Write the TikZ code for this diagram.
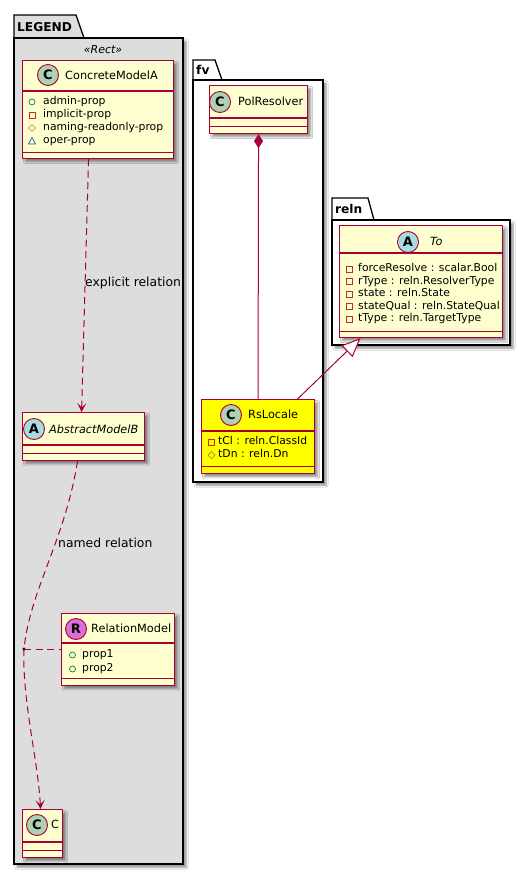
\documentclass[tikz,border=0pt]{standalone}
\usepackage{fontspec}
\setmainfont{DejaVu Sans}
\usetikzlibrary{arrows.meta,shadows.blur}
\definecolor{umlborder}{HTML}{A80036}
\definecolor{umlfill}{HTML}{FEFECE}
\definecolor{circC}{HTML}{ADD1B2}
\definecolor{circA}{HTML}{A9DCDF}
\definecolor{circR}{HTML}{DA70D6}
\definecolor{pkgfill}{HTML}{DDDDDD}
\definecolor{icpub}{HTML}{038048}
\definecolor{icpriv}{HTML}{C82930}
\definecolor{icprot}{HTML}{B38D22}
\definecolor{icpkg}{HTML}{1963A0}
\definecolor{rsyellow}{HTML}{FFFF00}
\begin{document}
\begin{tikzpicture}[x=1pt,y=-1pt,
  softshadow/.style={blur shadow={shadow xshift=3pt,shadow yshift=-3pt,shadow blur steps=5,shadow opacity=45}},
  pkgline/.style={draw=black,line width=1.3pt},
  classbox/.style={draw=umlborder,fill=umlfill,line width=1.1pt,inner sep=0pt,anchor=north west,softshadow},
  sepline/.style={draw=umlborder,line width=1.1pt},
  circ/.style={circle,draw=umlborder,line width=0.9pt,minimum size=21pt,inner sep=0pt,font=\bfseries\fontsize{13}{13}\selectfont},
  ctitle/.style={anchor=west,inner sep=0pt,text height=9pt,text depth=2.5pt,font=\fontsize{11.3}{13}\selectfont},
  attr/.style={anchor=west,inner sep=0pt,text height=8pt,text depth=2.5pt,font=\fontsize{10.8}{12}\selectfont},
  lbl/.style={anchor=west,inner sep=0pt,text height=9pt,text depth=2.5pt,font=\fontsize{12.4}{14}\selectfont},
  pkgname/.style={anchor=west,inner sep=0pt,font=\bfseries\fontsize{12.2}{14}\selectfont},
  rel/.style={draw=umlborder,line width=1pt},
  dashrel/.style={rel,dash pattern=on 7pt off 4.5pt},
  pubicon/.pic={\draw[icpub,line width=0.7pt] (0,0) circle (3);},
  privicon/.pic={\draw[icpriv,line width=0.7pt] (-3,-3) rectangle (3,3);},
  proticon/.pic={\draw[icprot,line width=0.7pt] (-3.5,0)--(0,-3.5)--(3.5,0)--(0,3.5)--cycle;},
  pkgicon/.pic={\draw[icpkg,line width=0.7pt] (-3.5,3)--(3.5,3)--(0,-3.5)--cycle;}
]
\useasboundingbox (0,0) rectangle (530,876);
\fill[white] (0,0) rectangle (530,876);

% ---------- packages ----------
\path[pkgline,fill=pkgfill] (14,38) -- (14,15) -- (76,15) -- (84,38) -- cycle;
\path[pkgline,fill=pkgfill,softshadow] (14,38) rectangle (183,864);
\node[pkgname] (legendname) at (17,27) {LEGEND};
\node[inner sep=0pt,font=\itshape\fontsize{11}{13}\selectfont] (rectst) at (103,50) {«Rect»};

\path[pkgline,fill=white] (193,80) -- (193,60) -- (215,60) -- (222,80) -- cycle;
\path[pkgline,fill=white,softshadow] (193,80) rectangle (323,482);
\node[pkgname] (fvname) at (196,70) {fv};

\path[pkgline,fill=white] (332,220) -- (332,198) -- (368,198) -- (374,220) -- cycle;
\path[pkgline,fill=white,softshadow] (332,220) rectangle (510,345);
\node[pkgname] (relnname) at (335,209) {reln};

% ---------- ConcreteModelA ----------
\node[classbox,minimum width=151pt,minimum height=98pt] (cma) at (22,60) {};
\draw[sepline] ([yshift=-31pt]cma.north west) -- ([yshift=-31pt]cma.north east);
\draw[sepline] ([yshift=7pt]cma.south west) -- ([yshift=7pt]cma.south east);
\node[circ,fill=circC] (cmacirc) at (48,75) {C};
\node[ctitle] (cmatitle) at (65,76) {ConcreteModelA};
\pic at (32,102) {pubicon};  \node[attr] (cmaa1) at (43,102) {admin-prop};
\pic at (32,115) {privicon}; \node[attr] (cmaa2) at (43,115) {implicit-prop};
\pic at (32,128) {proticon}; \node[attr] (cmaa3) at (43,128) {naming-readonly-prop};
\pic at (32,141) {pkgicon};  \node[attr] (cmaa4) at (43,141) {oper-prop};

% ---------- AbstractModelB ----------
\node[classbox,minimum width=122pt,minimum height=48pt] (amb) at (22,412) {};
\draw[sepline] ([yshift=-33pt]amb.north west) -- ([yshift=-33pt]amb.north east);
\draw[sepline] ([yshift=8pt]amb.south west) -- ([yshift=8pt]amb.south east);
\node[circ,fill=circA] (ambcirc) at (34,429) {A};
\node[ctitle,font=\itshape\fontsize{11.3}{13}\selectfont] (ambtitle) at (49,430) {AbstractModelB};

% ---------- RelationModel ----------
\node[classbox,minimum width=113pt,minimum height=72pt] (relm) at (61,613) {};
\draw[sepline] ([yshift=-30pt]relm.north west) -- ([yshift=-30pt]relm.north east);
\draw[sepline] ([yshift=8pt]relm.south west) -- ([yshift=8pt]relm.south east);
\node[circ,fill=circR] (relmcirc) at (76,629) {R};
\node[ctitle] (relmtitle) at (91,629) {RelationModel};
\pic at (72.5,655) {pubicon}; \node[attr] (relma1) at (82,655) {prop1};
\pic at (72.5,669) {pubicon}; \node[attr] (relma2) at (82,669) {prop2};

% ---------- C ----------
\node[classbox,minimum width=40pt,minimum height=48pt] (cc) at (22,809) {};
\draw[sepline] ([yshift=-33pt]cc.north west) -- ([yshift=-33pt]cc.north east);
\draw[sepline] ([yshift=8pt]cc.south west) -- ([yshift=8pt]cc.south east);
\node[circ,fill=circC] (cccirc) at (37,825) {C};
\node[ctitle] (cctitle) at (51,825) {C};

% ---------- PolResolver ----------
\node[classbox,minimum width=98pt,minimum height=48pt] (polr) at (209,85) {};
\draw[sepline] ([yshift=-33pt]polr.north west) -- ([yshift=-33pt]polr.north east);
\draw[sepline] ([yshift=8pt]polr.south west) -- ([yshift=8pt]polr.south east);
\node[circ,fill=circC] (polrcirc) at (220,102) {C};
\node[ctitle] (polrtitle) at (238,102) {PolResolver};

% ---------- RsLocale ----------
\node[classbox,fill=rsyellow,minimum width=113pt,minimum height=74pt] (rsl) at (201,399) {};
\draw[sepline] ([yshift=-32pt]rsl.north west) -- ([yshift=-32pt]rsl.north east);
\draw[sepline] ([yshift=8pt]rsl.south west) -- ([yshift=8pt]rsl.south east);
\node[circ,fill=circC] (rslcirc) at (231,415) {C};
\node[ctitle] (rsltitle) at (248,415) {RsLocale};
\pic at (211.5,442) {privicon}; \node[attr] (rsla1) at (218,442) {tCl : reln.ClassId};
\pic at (211.5,455) {proticon}; \node[attr] (rsla2) at (218,455) {tDn : reln.Dn};

% ---------- To ----------
\node[classbox,minimum width=163pt,minimum height=112pt] (to) at (339,225) {};
\draw[sepline] ([yshift=-28pt]to.north west) -- ([yshift=-28pt]to.north east);
\draw[sepline] ([yshift=7pt]to.south west) -- ([yshift=7pt]to.south east);
\node[circ,fill=circA] (tocirc) at (408,242) {A};
\node[ctitle,font=\itshape\fontsize{11.3}{13}\selectfont] (totitle) at (430,242) {To};
\pic at (349,269) {privicon};   \node[attr] (toa1) at (358,269) {forceResolve : scalar.Bool};
\pic at (349,281.5) {privicon}; \node[attr] (toa2) at (358,281.5) {rType : reln.ResolverType};
\pic at (349,294) {privicon};   \node[attr] (toa3) at (358,294) {state : reln.State};
\pic at (349,306.5) {privicon}; \node[attr] (toa4) at (358,306.5) {stateQual : reln.StateQual};
\pic at (349,319) {privicon};   \node[attr] (toa5) at (358,319) {tType : reln.TargetType};

% ---------- connectors ----------
\draw[dashrel,-{Stealth[length=9pt,width=9pt,inset=4.5pt]}] ([xshift=-9.5pt]cma.south) -- ([xshift=-2pt]amb.north);
\node[lbl] (explbl) at (85,283) {explicit relation};

\node[circle,fill=black,inner sep=0pt,minimum size=3.5pt] (assocdot) at (24,649) {};
\draw[dashrel] ([xshift=-6pt]amb.south) .. controls (65,540) and (30,590) .. (assocdot.center);
\draw[dashrel,-{Stealth[length=9pt,width=9pt,inset=4.5pt]}] (assocdot.center) .. controls (22,700) and (38,760) .. ([xshift=-2pt]cc.north);
\draw[dashrel] (assocdot.center) -- (assocdot.center -| relm.west);
\node[lbl] (namedlbl) at (58,544) {named relation};

\draw[rel,{Diamond[length=14pt,width=9pt]}-] (polr.south) -- (rsl.north);
\draw[rel,-{Triangle[open,fill=white,length=19pt,width=16pt]}] ([xshift=39.5pt]rsl.north) -- ([xshift=-60.5pt]to.south);
\end{tikzpicture}
\end{document}
